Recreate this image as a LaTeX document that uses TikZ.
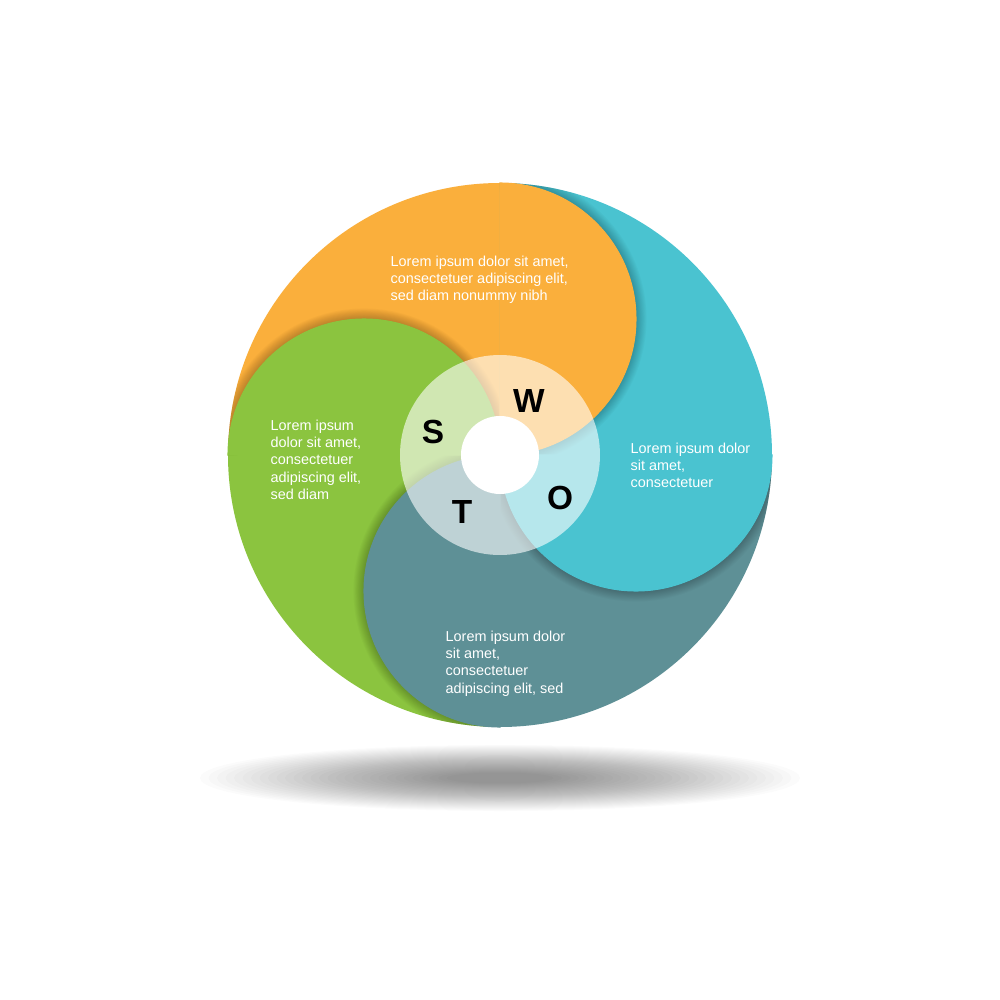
\documentclass[tikz,border=0pt]{standalone}
\usepackage{fontspec}
\setmainfont{Liberation Sans}
\definecolor{swotOrange}{HTML}{FAAF3C}
\definecolor{swotTeal}{HTML}{4AC3D0}
\definecolor{swotSlate}{HTML}{5E9096}
\definecolor{swotGreen}{HTML}{8BC43F}
\tikzset{
  blurb/.style={text=white, align=left, anchor=north west, inner sep=0pt,
    font=\fontsize{4.1}{4.95}\selectfont},
  letter/.style={text=black, inner sep=0pt, font=\fontsize{9.5}{10}\selectfont\bfseries},
  lobeshade/.style={black, opacity=0.02},
  lobe/.style={fill=#1, draw=#1, line width=0.3pt},
}
\begin{document}
\begin{tikzpicture}[x=0.01cm,y=0.01cm]
  \useasboundingbox (-500,-545) rectangle (500,455);
  \fill [white] (-500,-545) rectangle (500,455);
  % shadow on the floor
  \foreach \i in {0,...,29}
    \fill [black, opacity=0.017] (0,-323) ellipse [x radius={300-8.5*\i}, y radius={33-0.95*\i}];
  % quarters
  \fill [swotOrange] (0,0) -- (-272,0) arc [start angle=180, end angle=90, radius=272] -- cycle;
  \fill [swotTeal] (0,0) -- (0,272) arc [start angle=90, end angle=0, radius=272] -- cycle;
  \fill [swotSlate] (0,0) -- (272,0) arc [start angle=0, end angle=-90, radius=272] -- cycle;
  \fill [swotGreen] (0,0) -- (0,-272) arc [start angle=-90, end angle=-180, radius=272] -- cycle;
  % soft shadows under the lobes
  \begin{scope}
    \clip (0,0) -- (-272,0) arc [start angle=180, end angle=90, radius=272] -- cycle;
    \foreach \w in {0.5,1,...,6}
      \draw [lobeshade, line width=\w pt] (-272,0) arc [start angle=180, end angle=0, radius=136];
  \end{scope}
  \begin{scope}
    \clip (0,0) -- (0,272) arc [start angle=90, end angle=0, radius=272] -- cycle;
    \foreach \w in {0.5,1,...,6}
      \draw [lobeshade, line width=\w pt] (0,272) arc [start angle=90, end angle=-90, radius=136];
  \end{scope}
  \begin{scope}
    \clip (0,0) -- (272,0) arc [start angle=0, end angle=-90, radius=272] -- cycle;
    \foreach \w in {0.5,1,...,6}
      \draw [lobeshade, line width=\w pt] (272,0) arc [start angle=0, end angle=-180, radius=136];
  \end{scope}
  \begin{scope}
    \clip (0,0) -- (0,-272) arc [start angle=-90, end angle=-180, radius=272] -- cycle;
    \foreach \w in {0.5,1,...,6}
      \draw [lobeshade, line width=\w pt] (0,-272) arc [start angle=-90, end angle=-270, radius=136];
  \end{scope}
  % lobes
  \path [lobe=swotGreen] (-272,0) arc [start angle=180, end angle=0, radius=136] -- cycle;
  \path [lobe=swotOrange] (0,272) arc [start angle=90, end angle=-90, radius=136] -- cycle;
  \path [lobe=swotTeal] (272,0) arc [start angle=0, end angle=-180, radius=136] -- cycle;
  \path [lobe=swotSlate] (0,-272) arc [start angle=-90, end angle=-270, radius=136] -- cycle;
  % ring and hole
  \fill [white, opacity=0.6] (0,0) circle [radius=100];
  \fill [white] (0,0) circle [radius=39];
  \node [letter] (ltrS) at (-67,23) {S};
  \node [letter] (ltrW) at (29,54) {W};
  \node [letter] (ltrO) at (60,-43) {O};
  \node [letter] (ltrT) at (-38,-57) {T};
  % texts
  \node [blurb] (txtW) at (-110,200) {Lorem ipsum dolor sit amet,\\consectetuer adipiscing elit,\\sed diam nonummy nibh};
  \node [blurb] (txtS) at (-230,36) {Lorem ipsum\\dolor sit amet,\\consectetuer\\adipiscing elit,\\sed diam};
  \node [blurb] (txtO) at (130,13) {Lorem ipsum dolor\\sit amet,\\consectetuer};
  \node [blurb] (txtT) at (-55,-175) {Lorem ipsum dolor\\sit amet,\\consectetuer\\adipiscing elit, sed};
\end{tikzpicture}
\end{document}
